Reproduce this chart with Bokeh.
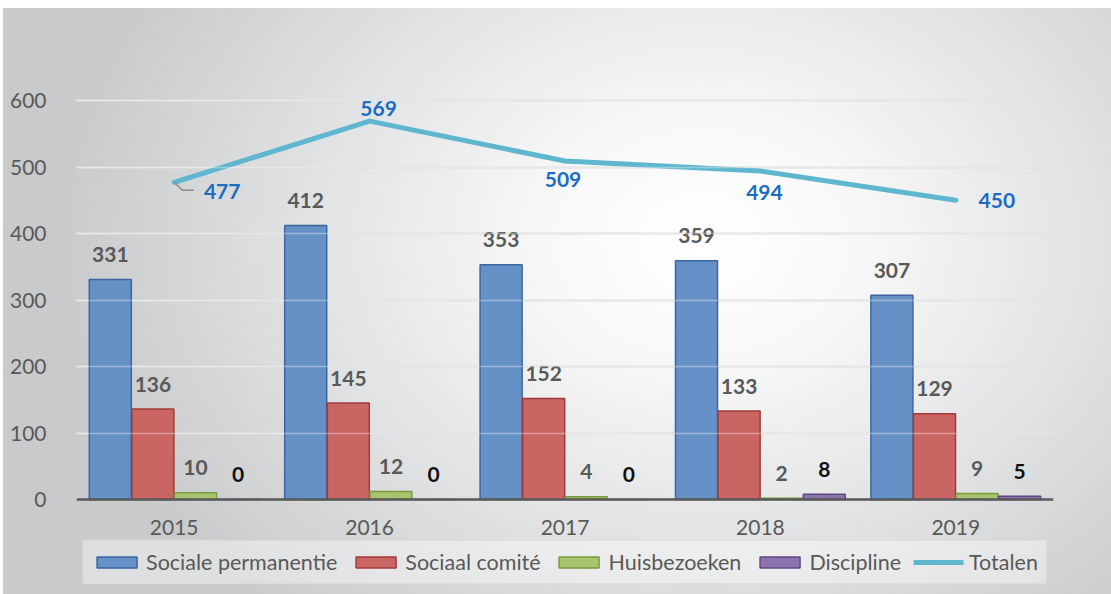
from bokeh.plotting import figure
from bokeh.models import (ColumnDataSource, FixedTicker, Legend, LegendItem, Grid,
                          Range1d, FactorRange)
from bokeh.transform import dodge
from bokeh.core.properties import value
from bokeh.embed import file_html
from bokeh.resources import INLINE

# ---------------- data ----------------
years = ["2015", "2016", "2017", "2018", "2019"]
sociale_permanentie = [331, 412, 353, 359, 307]
sociaal_comite = [136, 145, 152, 133, 129]
huisbezoeken = [10, 12, 4, 2, 9]
discipline = [0, 0, 0, 8, 5]
totalen = [477, 569, 509, 494, 450]
y_ticks = [0, 100, 200, 300, 400, 500, 600]
series_names = ["Sociale permanentie", "Sociaal comité", "Huisbezoeken", "Discipline"]
total_name = "Totalen"

# ---------------- styles / layout ----------------
FONT = "Lato"
W, H = 1108, 586
PX_PER_UNIT = 0.665          # vertical scale
ZERO_Y = 491                 # pixel row of the value 0 (from top of figure)
fills = ["#6591c6", "#c96664", "#a8c46f", "#8d73ad"]
edges = ["#3b66a1", "#a13b3a", "#7a9a3e", "#5e4a82"]
label_colors = ["#595959", "#595959", "#595959", "#111111"]
offsets = [-0.327, -0.109, 0.109, 0.327]
bar_w = 0.215
line_color = "#5fb6cf"
total_label_color = "#1b6dc1"
tot_dx = [48, 9, -2, 4, 41]
tot_dy = [9, -13, 18, 22, 0]

series = [sociale_permanentie, sociaal_comite, huisbezoeken, discipline]
cols = ["s0", "s1", "s2", "s3"]

data = dict(year=years, tot=totalen, tot_lbl=[str(v) for v in totalen],
            dx=tot_dx, dy=tot_dy)
for c, s in zip(cols, series):
    data[c] = s
    data[c + "_lbl"] = [str(v) for v in s]
src = ColumnDataSource(data)

y_lo = -(H - ZERO_Y) / PX_PER_UNIT
y_hi = ZERO_Y / PX_PER_UNIT

p = figure(x_range=FactorRange(*years), y_range=Range1d(y_lo, y_hi),
           width=W, height=H, title=None,
           output_backend="svg", toolbar_location=None,
           min_border_left=73, min_border_right=58, min_border_top=0,
           min_border_bottom=0)

p.border_fill_color = None
p.background_fill_color = None
p.outline_line_color = None
p.styles = {"margin-left": "3px", "margin-top": "8px",
            "background-image":
            "radial-gradient(58% 85% at 63% 40%, #ffffff 0%, #f8f8f8 24%, "
            "#e3e4e5 58%, #c9cacc 100%)"}

# axes
p.xaxis.fixed_location = 0
p.xaxis.axis_line_color = "#595959"
p.xaxis.axis_line_width = 2.5
p.xaxis.major_tick_line_color = None
p.xaxis.minor_tick_line_color = None
p.xaxis.major_label_text_font = FONT
p.xaxis.major_label_text_font_size = "21px"
p.xaxis.major_label_text_color = "#595959"
p.xaxis.major_label_standoff = 14

p.yaxis.ticker = FixedTicker(ticks=y_ticks)
p.yaxis.axis_line_color = None
p.yaxis.major_tick_line_color = None
p.yaxis.minor_tick_line_color = None
p.yaxis.major_label_text_font = FONT
p.yaxis.major_label_text_font_size = "21px"
p.yaxis.major_label_text_color = "#595959"
p.yaxis.major_label_standoff = 24

p.xgrid.grid_line_color = None
p.ygrid.ticker = FixedTicker(ticks=y_ticks[1:])
p.ygrid.grid_line_color = "#dcdcdc"
p.ygrid.grid_line_width = 2
over = Grid(dimension=1, ticker=FixedTicker(ticks=y_ticks[1:]), grid_line_color="white",
            grid_line_alpha=0.35, grid_line_width=1.5, level="overlay")
p.add_layout(over)

# bars + labels
bar_renderers = []
for i, c in enumerate(cols):
    r = p.vbar(x=dodge("year", offsets[i], range=p.x_range), top=c, width=bar_w,
               source=src, fill_color=fills[i], line_color=edges[i], line_width=1.5)
    bar_renderers.append(r)
    p.text(x=dodge("year", offsets[i], range=p.x_range), y=c, text=c + "_lbl",
           source=src, text_font=value(FONT), text_font_size="21px",
           text_font_style="bold", text_color=label_colors[i],
           text_align="center", text_baseline="middle", y_offset=-25)

# totals line
lr = p.line(x="year", y="tot", source=src, line_width=5, line_color=line_color,
            line_join="round", line_cap="round")
lead_x = [0.5, 0.5 + 0.042, 0.5 + 0.10]
lead_y = [totalen[0], totalen[0] - 12, totalen[0] - 12]
p.line(x=lead_x, y=lead_y, line_color="#8c8c8c", line_width=1.5)
p.text(x="year", y="tot", text="tot_lbl", source=src, x_offset="dx", y_offset="dy",
       text_font=value(FONT), text_font_size="21px", text_font_style="bold",
       text_color=total_label_color, text_align="center", text_baseline="middle")

# legend
items = [LegendItem(label=n, renderers=[r]) for n, r in zip(series_names, bar_renderers)]
items.append(LegendItem(label=total_name, renderers=[lr]))
legend = Legend(items=items, orientation="horizontal", location="bottom_center",
                label_text_font=FONT, label_text_font_size="21.5px",
                label_text_color="#595959", glyph_width=50, glyph_height=14,
                label_standoff=5, spacing=13, padding=8, margin=10,
                border_line_color="#d4d4d4", background_fill_color="white",
                background_fill_alpha=0.4)
p.add_layout(legend)

open("out.html", "w").write(file_html(p, INLINE))
